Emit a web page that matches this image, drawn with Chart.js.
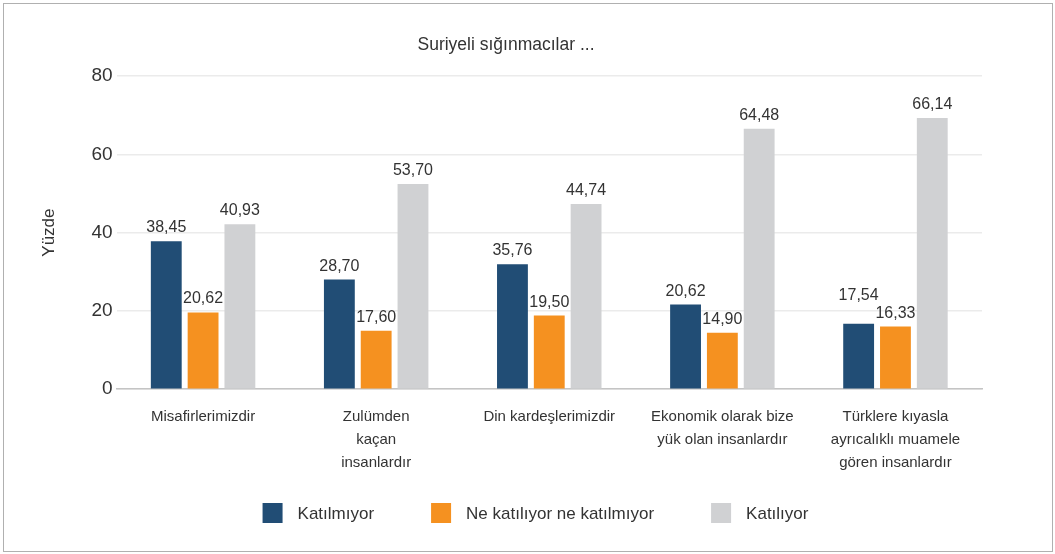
<!DOCTYPE html>
<html>
<head>
<meta charset="utf-8">
<script src="https://cdn.jsdelivr.net/npm/chart.js@4/dist/chart.umd.min.js"></script>
<style>
  html, body { margin: 0; padding: 0; background: #fff; }
  #wrap { position: relative; width: 1055px; height: 554px; }
</style>
</head>
<body>
<div id="wrap"><canvas id="c" width="1055" height="554"></canvas></div>
<script>
// ---- data ----
const categories = [
  "Misafirlerimizdir",
  ["Zulümden", "kaçan", "insanlardır"],
  "Din kardeşlerimizdir",
  ["Ekonomik olarak bize", "yük olan insanlardır"],
  ["Türklere kıyasla", "ayrıcalıklı muamele", "gören insanlardır"]
];
const seriesNames = ["Katılmıyor", "Ne katılıyor ne katılmıyor", "Katılıyor"];
// bar heights as drawn in the picture
const katilmiyor = [37.8, 28.0, 31.9, 21.6, 16.7];
const neKatiliyor = [19.6, 14.9, 18.8, 14.4, 16.0];
const katiliyor = [42.1, 52.4, 47.3, 66.5, 69.3];
// values printed above the bars
const katilmiyorLabels = [38.45, 28.70, 35.76, 20.62, 17.54];
const neKatiliyorLabels = [20.62, 17.60, 19.50, 14.90, 16.33];
const katiliyorLabels = [40.93, 53.70, 44.74, 64.48, 66.14];
const yTicks = [0, 20, 40, 60, 80];

const FONT = "'Liberation Sans', 'DejaVu Sans', sans-serif";
const TXT = "#333333";

const labelPlugin = {
  id: 'valueLabels',
  afterDatasetsDraw(chart) {
    const ctx = chart.ctx;
    ctx.save();
    ctx.font = "16px " + FONT;
    ctx.fillStyle = TXT;
    ctx.textAlign = "center";
    ctx.textBaseline = "alphabetic";
    const n = chart.data.labels.length;
    for (let j = 0; j < n; j++) {
      // labels of one category, left to right
      const items = chart.data.datasets.map((ds, i) => {
        const bar = chart.getDatasetMeta(i).data[j];
        const text = ds.printed[j].toFixed(2).replace('.', ',');
        return { x: bar.x, y: bar.y - 9, text, w: ctx.measureText(text).width };
      });
      // lift a label if it collides with its right neighbour
      for (let k = items.length - 2; k >= 0; k--) {
        const a = items[k], b = items[k + 1];
        const hGap = (b.x - b.w / 2) - (a.x + a.w / 2);
        if (hGap < 4 && Math.abs(a.y - b.y) < 16) {
          a.y = Math.min(a.y, b.y - 18);
        }
      }
      items.forEach(it => ctx.fillText(it.text, it.x, it.y));
    }
    ctx.restore();
  }
};

const legendPlugin = {
  id: 'customLegend',
  afterDraw(chart) {
    const ctx = chart.ctx;
    ctx.save();
    ctx.font = "17px " + FONT;
    ctx.textBaseline = "middle";
    ctx.textAlign = "left";
    const box = 20, textGap = 15, itemGap = 57;
    const items = chart.data.datasets.map(ds => ({
      color: ds.backgroundColor, text: ds.label, w: ctx.measureText(ds.label).width
    }));
    const total = items.reduce((s, it) => s + box + textGap + it.w, 0) + itemGap * (items.length - 1);
    let x = (chart.width - total) / 2 + 8;
    const cy = chart.height - 41;
    items.forEach(it => {
      ctx.fillStyle = it.color;
      ctx.fillRect(x, cy - box / 2, box, box);
      ctx.fillStyle = TXT;
      ctx.fillText(it.text, x + box + textGap, cy + 1);
      x += box + textGap + it.w + itemGap;
    });
    ctx.restore();
  }
};

const borderPlugin = {
  id: 'outerBorder',
  afterDraw(chart) {
    const ctx = chart.ctx;
    ctx.save();
    ctx.strokeStyle = "#b0b0b0";
    ctx.lineWidth = 1;
    ctx.strokeRect(3.5, 3.5, chart.width - 6, chart.height - 6);
    ctx.restore();
  }
};

new Chart(document.getElementById('c'), {
  type: 'bar',
  data: {
    labels: categories,
    datasets: [
      { label: seriesNames[0], data: katilmiyor, printed: katilmiyorLabels, backgroundColor: "#214D75" },
      { label: seriesNames[1], data: neKatiliyor, printed: neKatiliyorLabels, backgroundColor: "#F59120" },
      { label: seriesNames[2], data: katiliyor, printed: katiliyorLabels, backgroundColor: "#D0D1D3" }
    ]
  },
  options: {
    responsive: false,
    animation: false,
    devicePixelRatio: 1,
    layout: { padding: { left: 30, right: 73, top: 35, bottom: 64 } },
    datasets: { bar: { categoryPercentage: 0.638, barPercentage: 0.838 } },
    plugins: {
      title: {
        display: true,
        text: "Suriyeli sığınmacılar ...",
        color: TXT,
        font: { family: FONT, size: 17.5, weight: 'normal' },
        padding: { top: 0, bottom: 20 }
      },
      legend: { display: false },
      tooltip: { enabled: false }
    },
    scales: {
      x: {
        grid: { display: false, drawTicks: false },
        border: { display: true, color: "#c4c4c4", width: 1.5 },
        ticks: { color: TXT, font: { family: FONT, size: 15, lineHeight: 1.53 }, padding: 16, maxRotation: 0, autoSkip: false }
      },
      y: {
        min: 0, max: 80,
        afterBuildTicks(scale) { scale.ticks = yTicks.map(v => ({ value: v })); },
        grid: { color: "#ebebeb", lineWidth: 1.5, drawTicks: false },
        border: { display: false },
        ticks: { color: TXT, font: { family: FONT, size: 19 }, padding: 4 },
        title: { display: true, text: "Yüzde", color: TXT, font: { family: FONT, size: 17 }, padding: { top: 9, bottom: 28 } }
      }
    }
  },
  plugins: [labelPlugin, legendPlugin, borderPlugin]
});
</script>
</body>
</html>
